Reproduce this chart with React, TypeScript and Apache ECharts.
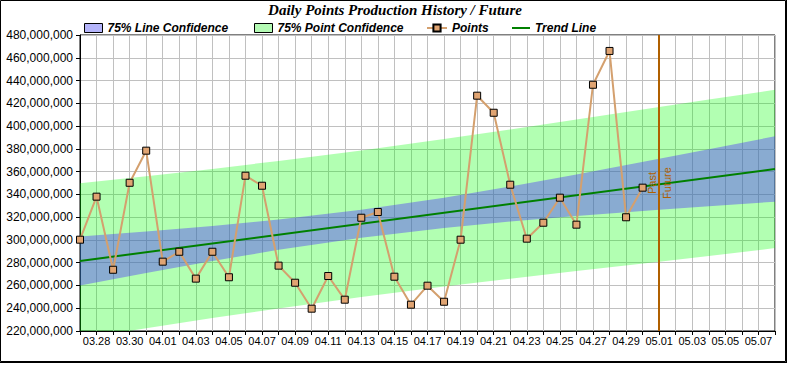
import React, { useEffect, useRef } from 'react';
import * as echarts from 'echarts';

// Tick labels: one per day, from 03.27 (day 0) to 05.08 (day 42)
const DATES = [
  '03.27', '03.28', '03.29', '03.30', '03.31',
  '04.01', '04.02', '04.03', '04.04', '04.05', '04.06', '04.07', '04.08', '04.09', '04.10',
  '04.11', '04.12', '04.13', '04.14', '04.15', '04.16', '04.17', '04.18', '04.19', '04.20',
  '04.21', '04.22', '04.23', '04.24', '04.25', '04.26', '04.27', '04.28', '04.29', '04.30',
  '05.01', '05.02', '05.03', '05.04', '05.05', '05.06', '05.07', '05.08',
];

// Daily points (03.27 .. 04.30)
const POINTS = [
  300200000, 338000000, 273800000, 350200000, 378400000, 280900000, 289600000, 266000000,
  289600000, 267200000, 356400000, 347600000, 277400000, 262400000, 239600000, 268300000,
  247500000, 319500000, 324500000, 267700000, 243100000, 259800000, 245700000, 300200000,
  426700000, 411700000, 348500000, 301100000, 315100000, 337100000, 313400000, 436300000,
  466000000, 319900000, 345900000,
];

// Trend line end points (day index, value)
const TREND_DAYS = [0, 42];
const TREND_VALUES = [281500000, 362300000];

// Confidence bands read at these day indexes
const BAND_DAYS = [0, 4, 8, 12, 17, 22, 26, 30, 35, 38, 42];
const LINE_CONF_UPPER = [303000000, 307400000, 312300000, 317900000, 326400000, 337100000, 346900000, 357400000, 371200000, 379600000, 391000000];
const LINE_CONF_LOWER = [260000000, 271000000, 281500000, 291300000, 302000000, 310500000, 316100000, 321000000, 326400000, 329600000, 333600000];
const POINT_CONF_UPPER = [349700000, 356000000, 362400000, 369400000, 378600000, 388600000, 397100000, 405800000, 416800000, 423300000, 431800000];
const POINT_CONF_LOWER = [213300000, 222400000, 231400000, 239800000, 249800000, 259000000, 265900000, 272600000, 280800000, 285900000, 292800000];

const PAST_FUTURE_DAY = 35;

const Y_MIN = 220000000;
const Y_MAX = 480000000;
const Y_STEP = 20000000;

export default function App() {
  const ref = useRef<HTMLDivElement>(null);

  useEffect(() => {
    document.body.style.margin = '0';
    const chart = echarts.init(ref.current as HTMLDivElement, null, { renderer: 'svg' });

    const pair = (xs: number[], ys: number[]) => xs.map((x, i) => [x, ys[i]]);

    const bandRenderer = (upper: number[], lower: number[], fill: string) =>
      (params: any, api: any) => {
        const top = BAND_DAYS.map((d, i) => api.coord([d, upper[i]]));
        const bottom = BAND_DAYS.map((d, i) => api.coord([d, lower[i]])).reverse();
        const cs = params.coordSys;
        return {
          type: 'polygon',
          shape: { points: top.concat(bottom) },
          style: { fill, stroke: 'none' },
          clipPath: { type: 'rect', shape: { x: cs.x, y: cs.y, width: cs.width, height: cs.height } },
          silent: true,
        };
      };

    const legendText = {
      fontFamily: 'Liberation Sans',
      fontStyle: 'italic',
      fontWeight: 'bold',
      fontSize: 12,
      color: '#000',
    };
    const legendBase = {
      top: 22,
      itemHeight: 9,
      selectedMode: false,
      textStyle: legendText,
      padding: 0,
    };

    const option: any = {
      animation: false,
      backgroundColor: '#fff',
      title: {
        text: 'Daily Points Production History / Future',
        left: 'center',
        top: 2,
        padding: 0,
        textStyle: {
          fontFamily: 'Liberation Serif',
          fontStyle: 'italic',
          fontWeight: 'bold',
          fontSize: 15,
          color: '#000',
        },
      },
      legend: [
        {
          ...legendBase,
          left: 84,
          itemWidth: 18,
          data: [{ name: '75% Line Confidence', icon: 'rect', itemStyle: { color: '#b4b4fa', borderColor: '#000', borderWidth: 1 } }],
        },
        {
          ...legendBase,
          left: 254,
          itemWidth: 18,
          data: [{ name: '75% Point Confidence', icon: 'rect', itemStyle: { color: '#b4fab4', borderColor: '#000', borderWidth: 1 } }],
        },
        {
          ...legendBase,
          left: 426,
          itemWidth: 20,
          data: [{ name: 'Points' }],
        },
        {
          ...legendBase,
          left: 512,
          itemWidth: 18,
          itemHeight: 2,
          data: [{ name: 'Trend Line', icon: 'rect', itemStyle: { color: '#008000', borderWidth: 0 } }],
        },
      ],
      grid: {
        left: 80,
        right: 15,
        top: 35,
        bottom: 34,
        show: true,
        borderColor: '#000',
        borderWidth: 1,
        backgroundColor: 'transparent',
      },
      xAxis: {
        type: 'value',
        min: 0,
        max: DATES.length - 1,
        interval: 1,
        axisLine: { show: true, lineStyle: { color: '#000', width: 1 } },
        axisTick: { show: true, length: 4, lineStyle: { color: '#000' } },
        splitLine: { show: true, lineStyle: { color: '#c0c0c0', width: 1 } },
        axisLabel: {
          margin: 4,
          fontFamily: 'Liberation Sans',
          fontSize: 11,
          color: '#000',
          showMinLabel: true,
          showMaxLabel: true,
          formatter: (v: number) => (Number.isInteger(v) && v % 2 === 1 ? DATES[v] : ''),
        },
      },
      yAxis: {
        type: 'value',
        min: Y_MIN,
        max: Y_MAX,
        interval: Y_STEP,
        axisLine: { show: true, lineStyle: { color: '#000', width: 1 } },
        axisTick: { show: true, length: 4, lineStyle: { color: '#000' } },
        splitLine: { show: true, lineStyle: { color: '#c0c0c0', width: 1 } },
        axisLabel: {
          margin: 7,
          fontFamily: 'Liberation Sans',
          fontSize: 12,
          color: '#000',
          formatter: (v: number) => v.toLocaleString('en-US'),
        },
      },
      series: [
        {
          type: 'custom',
          name: '75% Point Confidence',
          silent: true,
          color: '#b4fab4',
          data: [[0, POINT_CONF_LOWER[0]]],
          renderItem: bandRenderer(POINT_CONF_UPPER, POINT_CONF_LOWER, 'rgba(0,255,0,0.3)'),
          z: 1,
        },
        {
          type: 'custom',
          name: '75% Line Confidence',
          silent: true,
          color: '#b4b4fa',
          data: [[0, LINE_CONF_LOWER[0]]],
          renderItem: bandRenderer(LINE_CONF_UPPER, LINE_CONF_LOWER, 'rgba(75,45,255,0.4)'),
          z: 1,
        },
        {
          type: 'line',
          name: 'Trend Line',
          symbol: 'none',
          color: '#008000',
          data: pair(TREND_DAYS, TREND_VALUES),
          lineStyle: { color: '#008000', width: 2 },
          z: 3,
          markLine: {
            silent: true,
            symbol: 'none',
            lineStyle: { color: '#b06000', width: 2, type: 'solid' },
            label: {
              color: '#b06000',
              fontFamily: 'Liberation Sans',
              fontSize: 11,
              distance: 2,
            },
            data: [
              { xAxis: PAST_FUTURE_DAY, label: { formatter: 'Past', position: 'insideMiddleTop' } },
              { xAxis: PAST_FUTURE_DAY, label: { formatter: 'Future', position: 'insideMiddleBottom' } },
            ],
          },
        },
        {
          type: 'line',
          name: 'Points',
          symbol: 'rect',
          symbolSize: 7,
          color: '#d4a06e',
          data: POINTS.map((v, i) => [i, v]),
          lineStyle: { color: '#d4a06e', width: 2 },
          itemStyle: { color: '#e0a472', borderColor: '#000', borderWidth: 1 },
          z: 5,
        },
      ],
      graphic: [
        {
          type: 'rect',
          silent: true,
          shape: { x: 0.5, y: 0.5, width: 785, height: 361 },
          style: { fill: 'none', stroke: '#000', lineWidth: 1 },
        },
        {
          type: 'line',
          silent: true,
          shape: { x1: 786.5, y1: 0, x2: 786.5, y2: 363 },
          style: { stroke: '#000', lineWidth: 1 },
        },
        {
          type: 'line',
          silent: true,
          shape: { x1: 0, y1: 362.5, x2: 787, y2: 362.5 },
          style: { stroke: '#000', lineWidth: 1 },
        },
      ],
    };

    chart.setOption(option);
    return () => chart.dispose();
  }, []);

  return <div ref={ref} style={{ width: 790, height: 365 }} />;
}
